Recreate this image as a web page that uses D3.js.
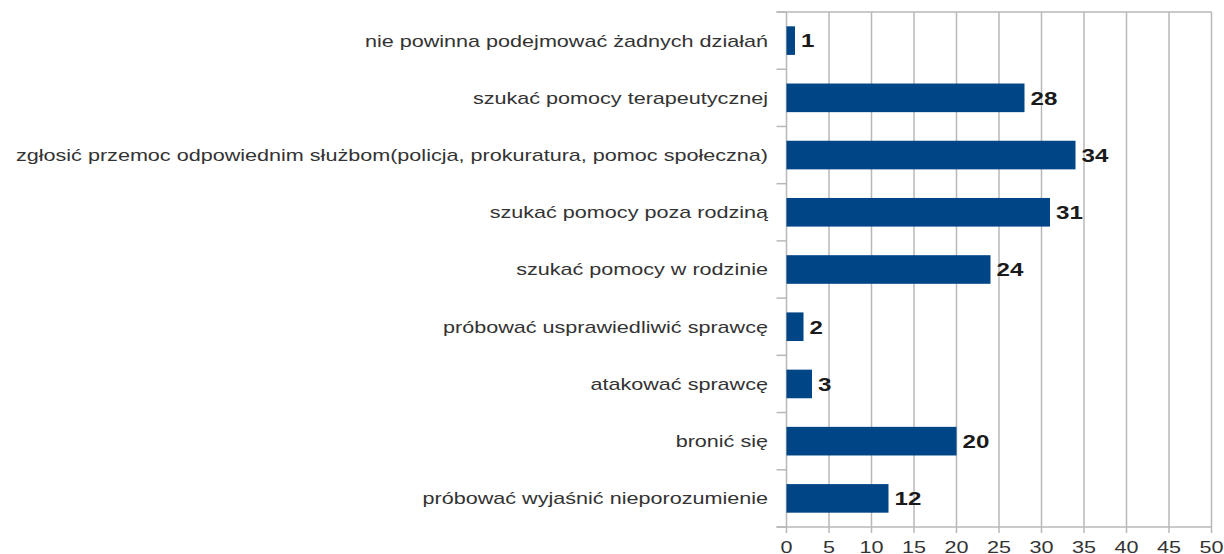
<!DOCTYPE html>
<html>
<head>
<meta charset="utf-8">
<script src="https://cdn.jsdelivr.net/npm/d3@7"></script>
<style>
  body { margin: 0; background: #fff; }
  text { font-family: "Liberation Sans", Arial, sans-serif; }
</style>
</head>
<body>
<script>
    // chart data, top to bottom
    var categories = [
        "nie powinna podejmować żadnych działań",
        "szukać pomocy terapeutycznej",
        "zgłosić przemoc odpowiednim służbom(policja, prokuratura, pomoc społeczna)",
        "szukać pomocy poza rodziną",
        "szukać pomocy w rodzinie",
        "próbować usprawiedliwić sprawcę",
        "atakować sprawcę",
        "bronić się",
        "próbować wyjaśnić nieporozumienie"
    ];
    var values = [1, 28, 34, 31, 24, 2, 3, 20, 12];
    var xTicks = [0, 5, 10, 15, 20, 25, 30, 35, 40, 45, 50];

    var w = 1224, h = 554;
    var plotLeft = 786.5, plotRight = 1211.5, plotTop = 12, plotBottom = 527;
    var stretch = 1.27; // the original text is rendered wide

    var svg = d3.select("body").append("svg")
        .attr("width", w)
        .attr("height", h);

    var x = d3.scaleLinear().domain([0, 50]).range([plotLeft, plotRight]);
    var y = d3.scaleBand().domain(categories).range([plotTop, plotBottom])
        .paddingInner(0.5).paddingOuter(0.25);

    // vertical grid lines
    svg.selectAll("line.grid")
        .data(xTicks)
        .enter().append("line")
        .attr("class", "grid")
        .attr("x1", function (d) { return x(d); })
        .attr("x2", function (d) { return x(d); })
        .attr("y1", plotTop)
        .attr("y2", plotBottom + 6)
        .attr("stroke", "#b8b8b8")
        .attr("stroke-width", 1.5);

    // top and bottom frame lines
    [plotTop, plotBottom].forEach(function (yy) {
        svg.append("line")
            .attr("x1", plotLeft - 10).attr("x2", plotRight)
            .attr("y1", yy).attr("y2", yy)
            .attr("stroke", "#b8b8b8")
            .attr("stroke-width", 1.5);
    });

    // category separator ticks on the left
    var step = y.step();
    var seps = d3.range(categories.length + 1).map(function (i) { return plotTop + i * step; });
    svg.selectAll("line.sep")
        .data(seps)
        .enter().append("line")
        .attr("class", "sep")
        .attr("x1", plotLeft - 10).attr("x2", plotLeft)
        .attr("y1", function (d) { return d; })
        .attr("y2", function (d) { return d; })
        .attr("stroke", "#b8b8b8")
        .attr("stroke-width", 1.5);

    // bars
    svg.selectAll("rect.bar")
        .data(values)
        .enter().append("rect")
        .attr("class", "bar")
        .attr("x", x(0))
        .attr("y", function (d, i) { return y(categories[i]); })
        .attr("width", function (d) { return x(d) - x(0); })
        .attr("height", y.bandwidth())
        .attr("fill", "#004586");

    // value labels
    svg.selectAll("text.val")
        .data(values)
        .enter().append("text")
        .attr("class", "val")
        .attr("transform", function (d, i) {
            return "translate(" + (x(d) + 6) + "," + (y(categories[i]) + y.bandwidth() / 2) + ") scale(" + stretch + ",1)";
        })
        .attr("dy", "0.36em")
        .attr("font-size", 19)
        .attr("font-weight", "bold")
        .attr("fill", "#1a1a1a")
        .text(function (d) { return d; });

    // category labels
    svg.selectAll("text.cat")
        .data(categories)
        .enter().append("text")
        .attr("class", "cat")
        .attr("transform", function (d) {
            return "translate(768," + (y(d) + y.bandwidth() / 2) + ") scale(" + stretch + ",1)";
        })
        .attr("dy", "0.35em")
        .attr("text-anchor", "end")
        .attr("font-size", 17)
        .attr("fill", "#333")
        .text(function (d) { return d; });

    // x tick labels
    svg.selectAll("text.tick")
        .data(xTicks)
        .enter().append("text")
        .attr("class", "tick")
        .attr("transform", function (d) { return "translate(" + x(d) + ",553) scale(" + stretch + ",1)"; })
        .attr("text-anchor", "middle")
        .attr("font-size", 17)
        .attr("fill", "#333")
        .text(function (d) { return d; });
</script>
</body>
</html>
